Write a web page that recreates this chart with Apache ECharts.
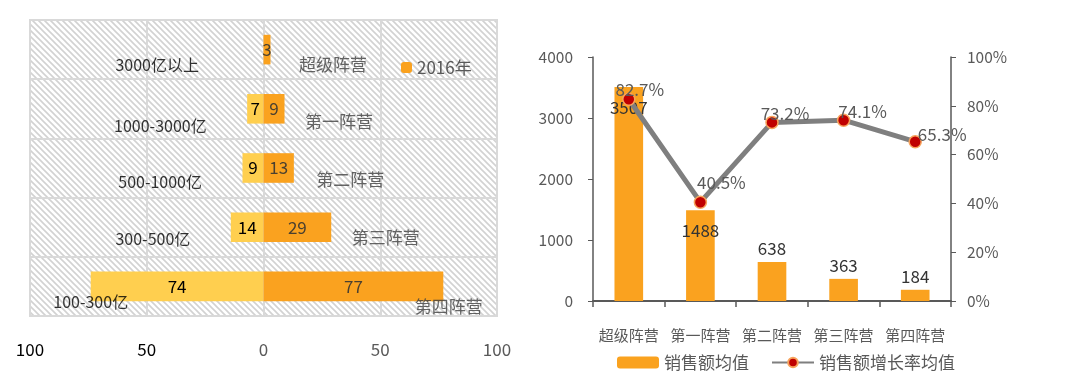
<!DOCTYPE html>
<html><head><meta charset="utf-8">
<script src="https://cdn.jsdelivr.net/npm/echarts@6/dist/echarts.min.js"></script>
<style>html,body{margin:0;padding:0;background:#fff}#c{width:1075px;height:381px}</style>
</head><body><div id="c"></div>
<script>
// ---- data ----
const sizeRanges = ['3000亿以上', '1000-3000亿', '500-1000亿', '300-500亿', '100-300亿'];
const camps = ['超级阵营', '第一阵营', '第二阵营', '第三阵营', '第四阵营'];
const count2015 = [0, 7, 9, 14, 74];
const count2016 = [3, 9, 13, 29, 77];
const countTicks = [-100, -50, 0, 50, 100];
const salesAvg = [3507, 1488, 638, 363, 184];
const growthAvg = [82.7, 40.5, 73.2, 74.1, 65.3];

// ---- styles ----
const FONT = '"Noto Sans CJK SC", "Noto Sans", sans-serif';
const ORANGE = '#FAA21F';
const YELLOW = '#FFCF4F';
const GRAY = '#595959';

function hatch() {
  const s = 6, c = document.createElement('canvas');
  c.width = s; c.height = s;
  const g = c.getContext('2d');
  g.fillStyle = '#fff'; g.fillRect(0, 0, s, s);
  g.strokeStyle = '#d2d2d2'; g.lineWidth = 1.6;
  g.beginPath();
  g.moveTo(-1, -1); g.lineTo(s + 1, s + 1);
  g.moveTo(s - 1, -1); g.lineTo(s + 1, 1);
  g.moveTo(-1, s - 1); g.lineTo(1, s + 1);
  g.stroke();
  return c;
}

const leftLabelStyle = [
  { offset: [-24, 15] }, { offset: [0, 17] }, { offset: [0, 14] }, { offset: [0, 12] },
  { position: 'inside', offset: [0, 16] }
];
const rightLabelStyle = [
  { offset: [8, 15] }, { offset: [0, 13] }, { offset: [2, 12] }, { offset: [0, 10] },
  { offset: [-49, 20] }
];
const growthLabelOffsets = [[11, -10], [21, -20], [13, -9], [19, -9], [27, -7]];
const salesLabelPos = ['insideTop', 'insideTop', 'top', 'top', 'top'];

const chart = echarts.init(document.getElementById('c'));
chart.setOption({
  animation: false,
  textStyle: { fontFamily: FONT },
  grid: [
    { left: 30, right: 578, top: 20, bottom: 65, show: true,
      backgroundColor: { image: hatch(), repeat: 'repeat' },
      borderColor: '#d9d9d9', borderWidth: 2 },
    { left: 593, right: 124, top: 57, bottom: 80 }
  ],
  legend: [
    { data: ['2016年'], left: 396, top: 54, itemWidth: 11, itemHeight: 11, itemGap: 4,
      textStyle: { fontSize: 17, color: GRAY, fontFamily: FONT } },
    { data: ['销售额均值', '销售额增长率均值'], left: 612, top: 349, itemWidth: 42, itemHeight: 12,
      itemGap: 22, textStyle: { fontSize: 17, color: GRAY, fontFamily: FONT } }
  ],
  xAxis: [
    { gridIndex: 0, type: 'value', min: -100, max: 100, interval: 50,
      axisLine: { show: false }, axisTick: { show: false },
      splitLine: { show: true, lineStyle: { color: '#d9d9d9', width: 2 } },
      axisLabel: { margin: 25, fontSize: 17, fontFamily: FONT,
        formatter: v => String(Math.abs(v)),
        color: v => (Number(v) < 0 ? '#000' : GRAY) } },
    { gridIndex: 1, type: 'category', data: camps,
      axisLine: { lineStyle: { color: GRAY, width: 2 } },
      axisTick: { show: true, length: 6, lineStyle: { color: GRAY, width: 1.5 } },
      axisLabel: { interval: 0, margin: 27, fontSize: 15, color: GRAY, fontFamily: FONT } },
    { gridIndex: 1, type: 'category', data: camps, position: 'bottom',
      axisLine: { show: false }, axisLabel: { show: false },
      axisTick: { show: true, inside: true, alignWithLabel: true, length: 4, lineStyle: { color: GRAY, width: 1.5 } } }
  ],
  yAxis: [
    { gridIndex: 0, type: 'category', data: sizeRanges, inverse: true,
      axisLine: { show: false }, axisTick: { show: false }, axisLabel: { show: false },
      splitLine: { show: true, lineStyle: { color: '#d9d9d9', width: 2 } } },
    { gridIndex: 1, type: 'value', min: 0, max: 4000, interval: 1000,
      axisLine: { show: true, lineStyle: { color: GRAY, width: 1.5 } },
      axisTick: { show: true, length: 5, lineStyle: { color: GRAY } },
      splitLine: { show: false },
      axisLabel: { margin: 20, fontSize: 15.5, color: GRAY, fontFamily: FONT, formatter: v => String(v) } },
    { gridIndex: 1, type: 'value', min: 0, max: 100, interval: 20, position: 'right',
      axisLine: { show: true, lineStyle: { color: GRAY, width: 1.5 } },
      axisTick: { show: true, length: 5, lineStyle: { color: GRAY } },
      splitLine: { show: false },
      axisLabel: { margin: 16, fontSize: 15.5, color: GRAY, fontFamily: FONT, formatter: '{value}%' } }
  ],
  series: [
    { name: '2015年', type: 'bar', xAxisIndex: 0, yAxisIndex: 0, stack: 'row', barWidth: '50%',
      itemStyle: { color: YELLOW },
      data: count2015.map(v => -v),
      label: { show: true, position: 'inside', fontSize: 17, color: '#000', fontFamily: FONT,
        formatter: p => (p.value === 0 ? '' : String(-p.value)) } },
    { name: '2016年', type: 'bar', xAxisIndex: 0, yAxisIndex: 0, stack: 'row', barWidth: '50%',
      itemStyle: { color: ORANGE },
      data: count2016,
      label: { show: true, position: 'inside', fontSize: 17, color: '#4a4030', fontFamily: FONT } },
    { name: 'rangeLabels', type: 'scatter', xAxisIndex: 0, yAxisIndex: 0, symbolSize: 1,
      itemStyle: { color: 'rgba(0,0,0,0)' }, silent: true,
      data: count2015.map((v, i) => ({ value: [-v, i], label: leftLabelStyle[i] })),
      label: { show: true, position: 'left', distance: 40, fontSize: 16, color: '#000', fontFamily: FONT,
        formatter: p => sizeRanges[p.dataIndex] } },
    { name: 'campLabels', type: 'scatter', xAxisIndex: 0, yAxisIndex: 0, symbolSize: 1,
      itemStyle: { color: 'rgba(0,0,0,0)' }, silent: true,
      data: count2016.map((v, i) => ({ value: [v, i], label: rightLabelStyle[i] })),
      label: { show: true, position: 'right', distance: 20, fontSize: 17, color: '#404040', fontFamily: FONT,
        formatter: p => camps[p.dataIndex] } },
    { name: '销售额均值', type: 'bar', xAxisIndex: 1, yAxisIndex: 1, barWidth: '40%',
      itemStyle: { color: ORANGE },
      data: salesAvg.map((v, i) => ({ value: v,
        label: { position: salesLabelPos[i], distance: salesLabelPos[i] === 'insideTop' ? 12 : 5 } })),
      label: { show: true, fontSize: 17, color: '#333', fontFamily: FONT } },
    { name: '销售额增长率均值', type: 'line', xAxisIndex: 1, yAxisIndex: 2, z: 5,
      symbol: 'circle', symbolSize: 12,
      lineStyle: { color: '#7f7f7f', width: 5 },
      itemStyle: { color: '#C00000', borderColor: '#F7A35C', borderWidth: 1.5 },
      data: growthAvg.map((v, i) => ({ value: v, label: { offset: growthLabelOffsets[i] } })),
      label: { show: true, position: 'inside', fontSize: 17, color: GRAY, fontFamily: FONT,
        formatter: p => p.value.toFixed(1) + '%' } }
  ]
});
</script>
</body></html>
